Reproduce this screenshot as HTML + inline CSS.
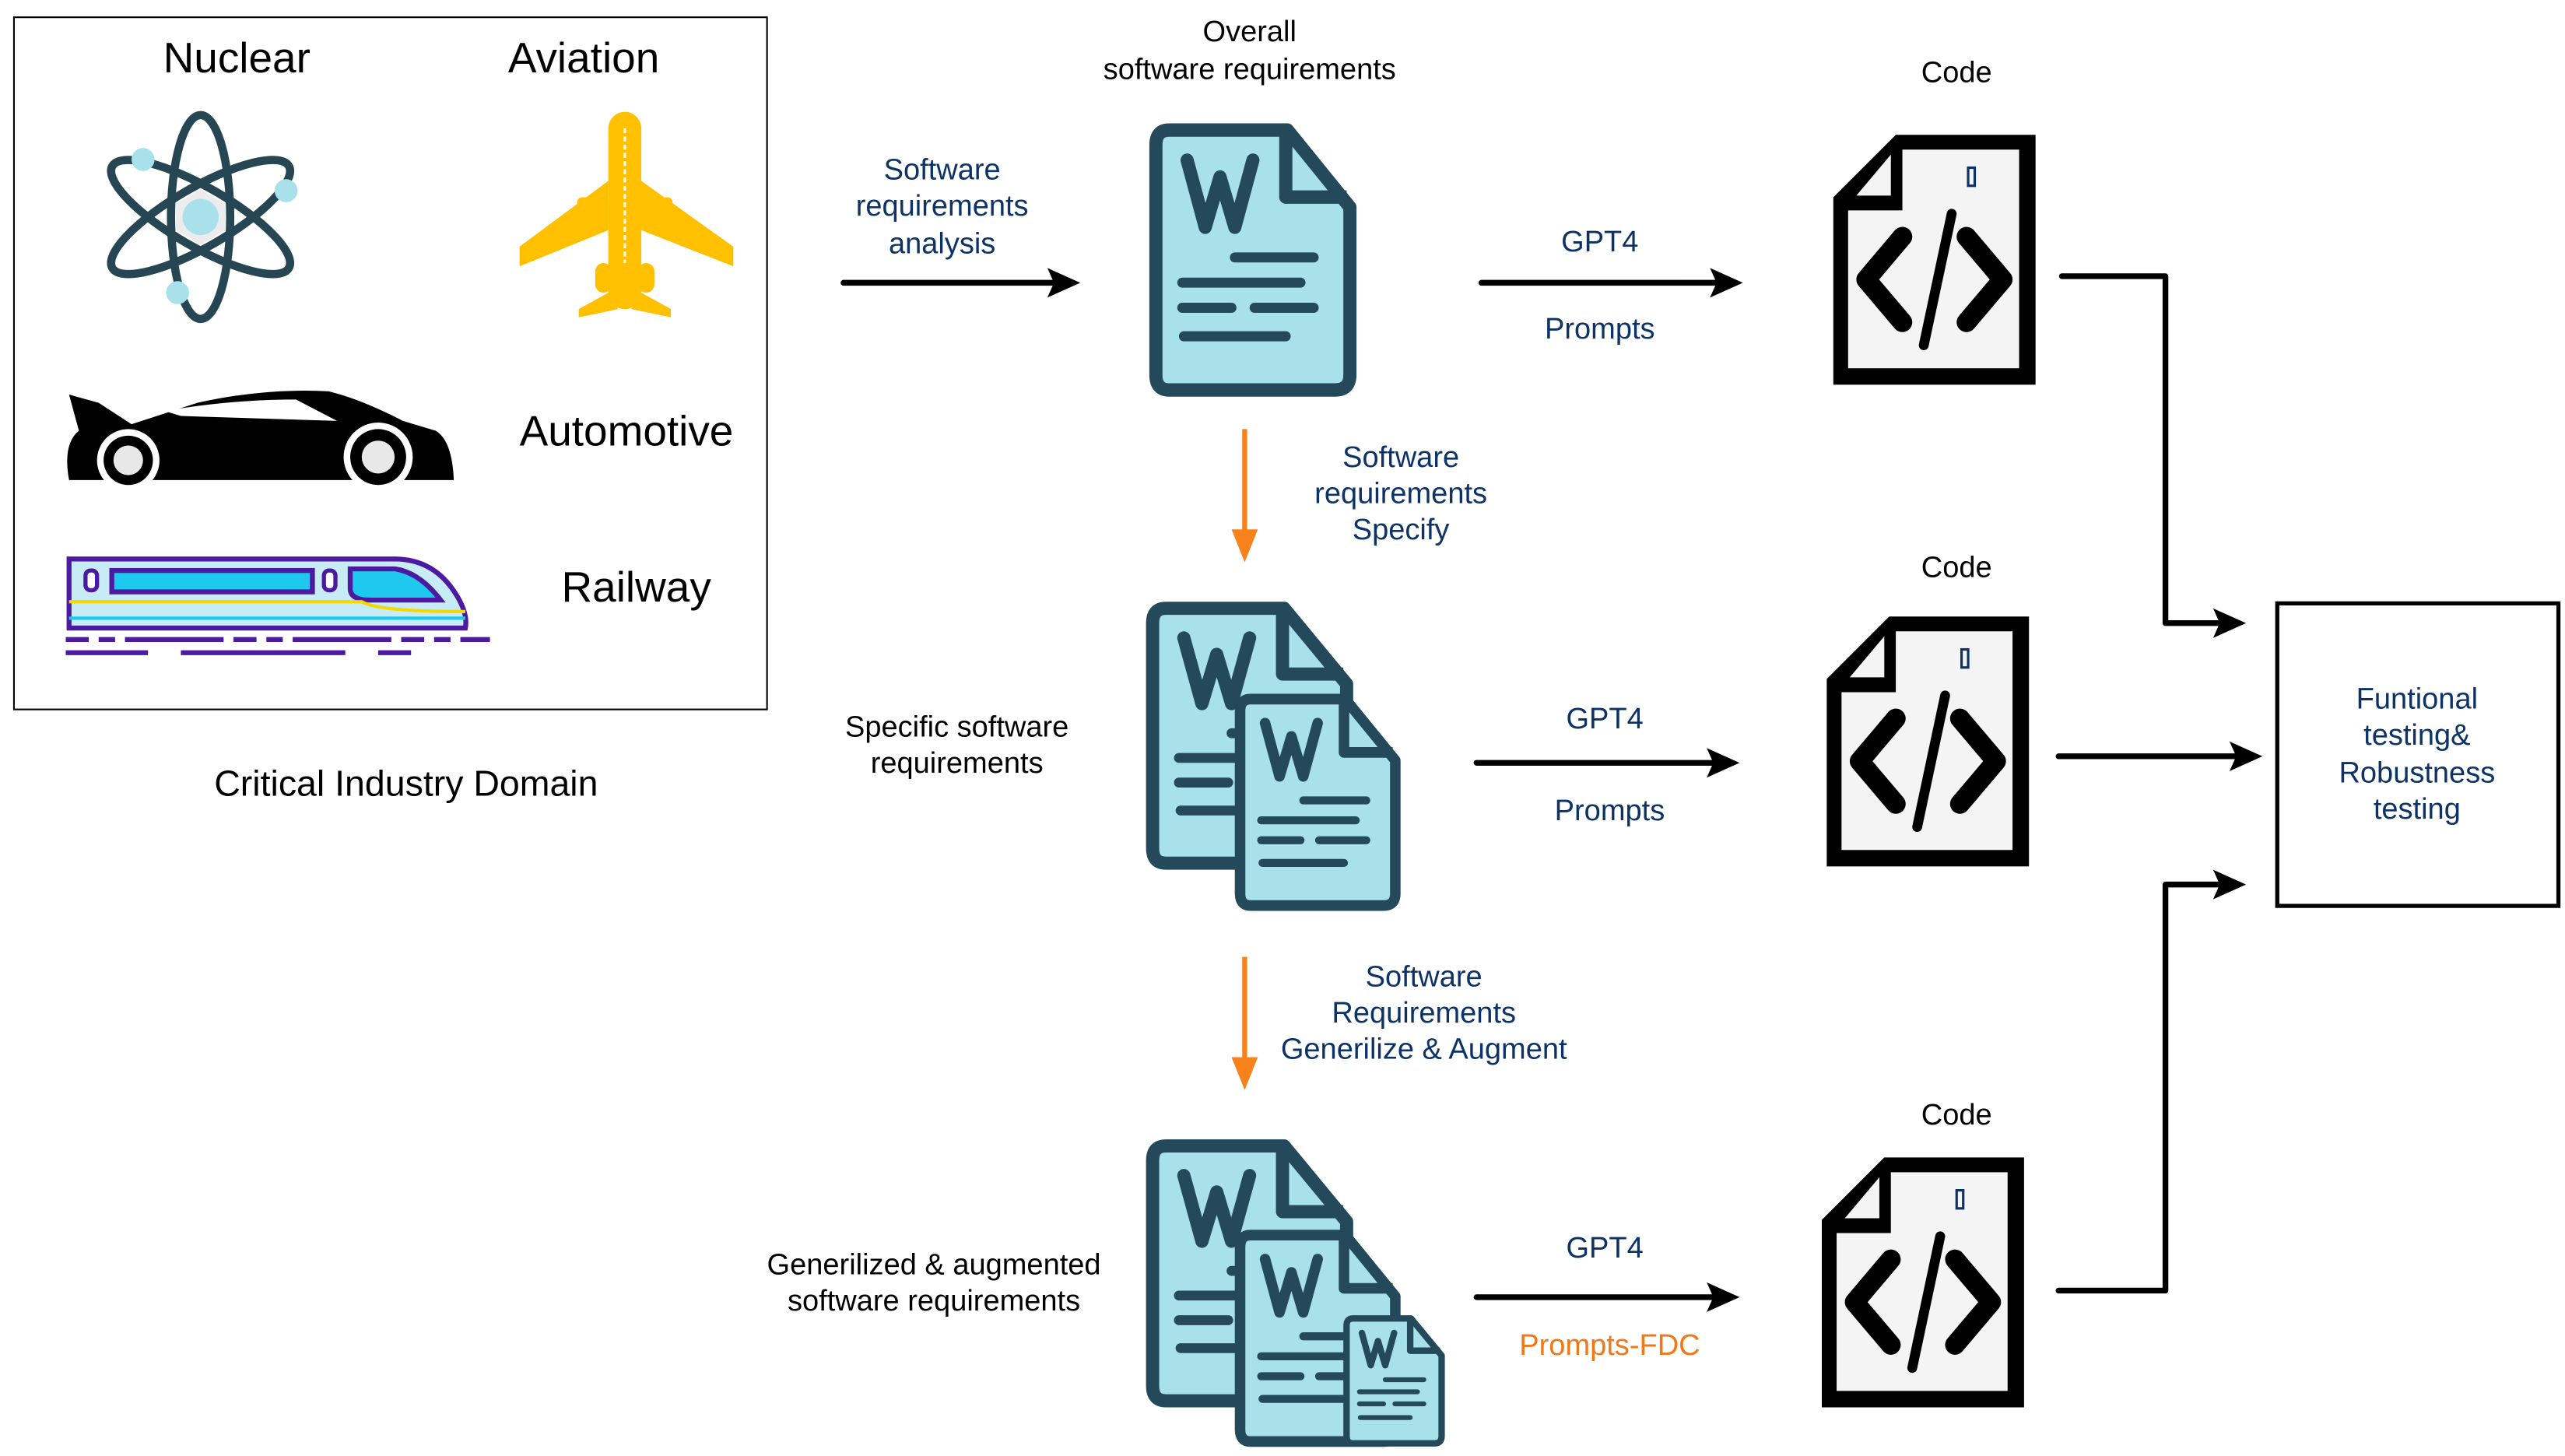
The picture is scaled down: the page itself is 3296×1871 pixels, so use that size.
<!DOCTYPE html>
<html><head><meta charset="utf-8"><style>
html,body{margin:0;padding:0;background:#fff;}
svg{display:block;}
text{font-family:"Liberation Sans",Arial,sans-serif;}
.b{fill:#0d3366;font-size:18px;}
.k{fill:#000;font-size:18px;}
</style></head><body>
<svg width="3296" height="1871" viewBox="0 0 1560 885.6" preserveAspectRatio="none" xmlns="http://www.w3.org/2000/svg">
<defs>
<g id="doc">
  <path d="M12,4 H84 L122,50 V150 Q122,159 113,159 H12 Q4,159 4,150 V13 Q4,4 12,4 Z" fill="#a8e1ea" stroke="#23495a" stroke-width="8" stroke-linejoin="round"/>
  <path d="M83,5 V44 H120" fill="none" stroke="#23495a" stroke-width="8" stroke-linejoin="round"/>
  <path d="M23,22 L34,62 L43,32 L52,62 L63,22" fill="none" stroke="#23495a" stroke-width="8" stroke-linejoin="round" stroke-linecap="round"/>
  <g stroke="#23495a" stroke-width="6" stroke-linecap="round">
    <line x1="52" y1="80" x2="100" y2="80"/>
    <line x1="20" y1="95" x2="92" y2="95"/>
    <line x1="20" y1="110" x2="50" y2="110"/>
    <line x1="64" y1="110" x2="100" y2="110"/>
    <line x1="21" y1="127" x2="83" y2="127"/>
  </g>
</g>
<g id="code">
  <path d="M38,0 H123 V152 H0 V38 Z" fill="#000"/>
  <path d="M42,9 H113 V142 H9 V46 H42 Z" fill="#f4f4f4"/>
  <path d="M14,37 L35,12 V37 Z" fill="#f4f4f4"/>
  <rect x="82" y="20" width="4" height="11" fill="none" stroke="#0d3366" stroke-width="1.5"/>
  <polyline points="42,62 20,88 42,114" fill="none" stroke="#000" stroke-width="12" stroke-linecap="round" stroke-linejoin="round"/>
  <polyline points="81,62 103,88 81,114" fill="none" stroke="#000" stroke-width="12" stroke-linecap="round" stroke-linejoin="round"/>
  <line x1="72" y1="48" x2="55" y2="128" stroke="#000" stroke-width="6" stroke-linecap="round"/>
</g>
<marker id="ah" markerWidth="10" markerHeight="8" refX="9" refY="4" orient="auto" markerUnits="userSpaceOnUse" viewBox="0 0 10 8">
</marker>
</defs>

<!-- left domain box -->
<rect x="8.5" y="10.5" width="458" height="421" fill="#fff" stroke="#000" stroke-width="1"/>
<text x="144" y="44" text-anchor="middle" style="font-size:26px" fill="#000">Nuclear</text>
<text x="355" y="44" text-anchor="middle" style="font-size:26px" fill="#000">Aviation</text>
<text x="381" y="271" text-anchor="middle" style="font-size:26px" fill="#000">Automotive</text>
<text x="387" y="366" text-anchor="middle" style="font-size:26px" fill="#000">Railway</text>
<text x="247" y="484" text-anchor="middle" style="font-size:22px" fill="#000">Critical Industry Domain</text>

<!-- atom -->
<g transform="translate(122,132)">
  <polygon points="0,-17 15,-8 15,8 0,17 -15,8 -15,-8" fill="#ececec"/>
  <circle r="11" fill="#a8e1ea"/>
  <g fill="none" stroke="#264653" stroke-width="5">
    <ellipse rx="18" ry="62"/>
    <ellipse rx="18" ry="62" transform="rotate(60)"/>
    <ellipse rx="18" ry="62" transform="rotate(-60)"/>
  </g>
  <circle cx="-35" cy="-35" r="7" fill="#a8e1ea"/>
  <circle cx="52" cy="-16" r="7" fill="#a8e1ea"/>
  <circle cx="-14" cy="46" r="7" fill="#a8e1ea"/>
</g>

<!-- plane -->
<g fill="#ffc000">
  <rect x="370" y="68" width="20" height="120" rx="10"/>
  <polygon points="370,110 316,150 316,162 370,140"/>
  <polygon points="390,110 446,150 446,162 390,140"/>
  <polygon points="370,178 352,188 352,193 376,188"/>
  <polygon points="390,178 408,188 408,193 384,188"/>
  <rect x="351" y="120" width="8" height="20" rx="3"/>
  <rect x="401" y="120" width="8" height="20" rx="3"/>
  <rect x="362" y="160" width="10" height="18" rx="5"/>
  <rect x="388" y="160" width="10" height="18" rx="5"/>
</g>
<line x1="380" y1="78" x2="380" y2="160" stroke="#fff" stroke-width="1.5" stroke-dasharray="3,2"/>

<!-- car -->
<path d="M42,240 L60,245 L80,258 L120,245 Q160,236 200,238 Q220,243 245,256 L265,262 Q275,268 276,292 L42,292 Q38,270 48,262 Z" fill="#000"/>
<path d="M100,250 Q140,243 180,243 L205,256 L110,253 Z" fill="#fff"/>
<circle cx="78" cy="280" r="19" fill="#fff"/>
<circle cx="78" cy="280" r="15" fill="#000"/>
<circle cx="78" cy="280" r="9" fill="#e8e8e8"/>
<circle cx="230" cy="278" r="21" fill="#fff"/>
<circle cx="230" cy="278" r="17" fill="#000"/>
<circle cx="230" cy="278" r="10" fill="#e8e8e8"/>

<!-- train -->
<path d="M42,340 H240 Q262,340 275,358 Q285,372 283,382 H42 Z" fill="#c7ecf5" stroke="#4b1aa0" stroke-width="3"/>
<rect x="68" y="347" width="122" height="13" fill="#1ec8ee" stroke="#4b1aa0" stroke-width="3"/>
<path d="M213,346 H240 Q255,348 268,365 H225 Q213,365 213,358 Z" fill="#1ec8ee" stroke="#4b1aa0" stroke-width="3"/>
<rect x="52" y="347" width="7" height="12" rx="3" fill="#fff" stroke="#4b1aa0" stroke-width="2.5"/>
<rect x="197" y="347" width="7" height="12" rx="3" fill="#fff" stroke="#4b1aa0" stroke-width="2.5"/>
<path d="M42,366 H220 Q230,372 283,372" fill="none" stroke="#f5d800" stroke-width="2"/>
<path d="M42,376 H283" stroke="#1ec8ee" stroke-width="2"/>
<g stroke="#4b1aa0" stroke-width="3">
  <line x1="40" y1="389" x2="298" y2="389" stroke-dasharray="14,6,10,6,60,6"/>
  <line x1="40" y1="397" x2="298" y2="397" stroke-dasharray="50,20,100,20,20"/>
</g>

<!-- middle column texts -->
<text x="760" y="25" text-anchor="middle" class="k">Overall</text>
<text x="760" y="48" text-anchor="middle" class="k">software requirements</text>
<text x="573" y="109" text-anchor="middle" class="b">Software</text>
<text x="573" y="131" text-anchor="middle" class="b">requirements</text>
<text x="573" y="154" text-anchor="middle" class="b">analysis</text>

<text x="852" y="284" text-anchor="middle" class="b">Software</text>
<text x="852" y="306" text-anchor="middle" class="b">requirements</text>
<text x="852" y="328" text-anchor="middle" class="b">Specify</text>

<text x="582" y="448" text-anchor="middle" class="k">Specific software</text>
<text x="582" y="470" text-anchor="middle" class="k">requirements</text>

<text x="866" y="600" text-anchor="middle" class="b">Software</text>
<text x="866" y="622" text-anchor="middle" class="b">Requirements</text>
<text x="866" y="644" text-anchor="middle" class="b">Generilize &amp; Augment</text>

<text x="568" y="775" text-anchor="middle" class="k">Generilized &amp; augmented</text>
<text x="568" y="797" text-anchor="middle" class="k">software requirements</text>

<!-- docs -->
<use href="#doc" transform="translate(699,75) scale(1.0,1.02)"/>
<use href="#doc" transform="translate(697,366) scale(1.0,1.0)"/>
<use href="#doc" transform="translate(751,422) scale(0.8,0.81)"/>
<use href="#doc" transform="translate(697,693) scale(1.0,1.0)"/>
<use href="#doc" transform="translate(751,748) scale(0.8,0.81)"/>
<use href="#doc" transform="translate(817,800) scale(0.49,0.49)"/>

<!-- black arrows -->
<g stroke="#000" stroke-width="3.5" stroke-linecap="round" fill="none">
  <line x1="513" y1="172" x2="645" y2="172"/>
  <line x1="901" y1="172" x2="1048" y2="172"/>
  <line x1="898" y1="464" x2="1046" y2="464"/>
  <line x1="898" y1="789" x2="1046" y2="789"/>
  <polyline points="1254,168 1317,168 1317,379 1354,379" stroke-linejoin="round"/>
  <line x1="1252" y1="460" x2="1364" y2="460"/>
  <polyline points="1252,785 1317,785 1317,538 1354,538" stroke-linejoin="round"/>
</g>
<g fill="#000">
  <polygon points="637,163 657,172 637,181 641,172"/>
  <polygon points="1040,163 1060,172 1040,181 1044,172"/>
  <polygon points="1038,455 1058,464 1038,473 1042,464"/>
  <polygon points="1038,780 1058,789 1038,798 1042,789"/>
  <polygon points="1346,370 1366,379 1346,388 1350,379"/>
  <polygon points="1356,451 1376,460 1356,469 1360,460"/>
  <polygon points="1346,529 1366,538 1346,547 1350,538"/>
</g>

<!-- orange arrows -->
<g stroke="#f7821b" stroke-width="3">
  <line x1="757" y1="261" x2="757" y2="325"/>
  <line x1="757" y1="582" x2="757" y2="646"/>
</g>
<g fill="#f7821b">
  <polygon points="749,322 765,322 757,342"/>
  <polygon points="749,643 765,643 757,663"/>
</g>

<text x="973" y="153" text-anchor="middle" class="b">GPT4</text>
<text x="973" y="206" text-anchor="middle" class="b">Prompts</text>
<text x="976" y="443" text-anchor="middle" class="b">GPT4</text>
<text x="979" y="499" text-anchor="middle" class="b">Prompts</text>
<text x="976" y="765" text-anchor="middle" class="b">GPT4</text>
<text x="979" y="824" text-anchor="middle" style="font-size:18px" fill="#f07818">Prompts-FDC</text>

<!-- code -->
<text x="1190" y="50" text-anchor="middle" class="k">Code</text>
<text x="1190" y="351" text-anchor="middle" class="k">Code</text>
<text x="1190" y="684" text-anchor="middle" class="k">Code</text>
<use href="#code" transform="translate(1115,82)"/>
<use href="#code" transform="translate(1111,375)"/>
<use href="#code" transform="translate(1108,704) scale(1,1.0)"/>

<!-- right box -->
<rect x="1385" y="367" width="171" height="184" fill="#fff" stroke="#000" stroke-width="2.5"/>
<text x="1470" y="431" text-anchor="middle" class="b">Funtional</text>
<text x="1470" y="453" text-anchor="middle" class="b">testing&amp;</text>
<text x="1470" y="476" text-anchor="middle" class="b">Robustness</text>
<text x="1470" y="498" text-anchor="middle" class="b">testing</text>
</svg>
</body></html>
